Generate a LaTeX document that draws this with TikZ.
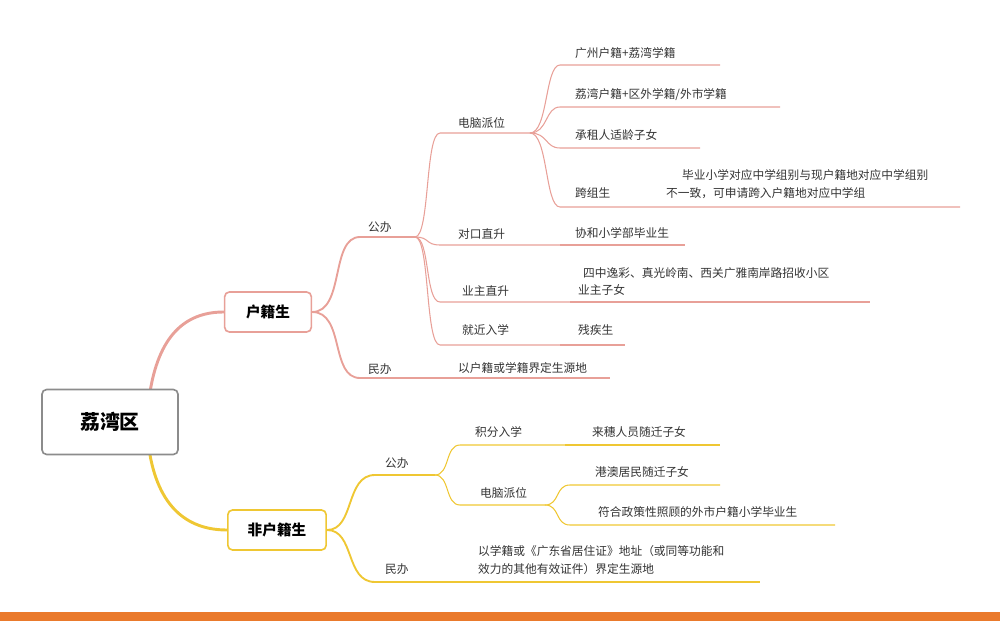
\documentclass[tikz,border=0pt]{standalone}
\usepackage{fontspec}
\setmainfont{Noto Sans CJK SC}
\begin{document}
\begin{tikzpicture}[x=0.03cm,y=-0.03cm,
  pk/.style={draw=pinkc,line width=0.9pt},
  yl/.style={draw=yelc,line width=0.9pt},
  lbl/.style={anchor=west,inner sep=0pt,font=\fontsize{10pt}{11pt}\selectfont,text=black!80},
  box/.style={draw,rounded corners=4pt,fill=white,line width=1.4pt,inner sep=0pt}]
\definecolor{pinkc}{HTML}{E8A098}
\definecolor{yelc}{HTML}{EFC733}
\definecolor{orc}{HTML}{EA7A2C}
\useasboundingbox (0,0) rectangle (1000,621);
\fill[orc] (0,612) rectangle (1000,621);
\coordinate (r1) at (150,392); \coordinate (r2) at (150,455);
\node[box,draw=pinkc,minimum width=2.6cm,minimum height=1.2cm,font=\bfseries\fontsize{12.5pt}{14pt}\selectfont] (hj) at (268,312) {户籍生};
\node[box,draw=yelc,minimum width=2.95cm,minimum height=1.2cm,font=\bfseries\fontsize{12.5pt}{14pt}\selectfont] (fhj) at (277,530) {非户籍生};
\draw[pinkc,line width=2.5pt] (r1) .. controls (160,330) and (190,312) .. (hj.west);
\draw[yelc,line width=2.5pt] (r2) .. controls (160,510) and (190,530) .. (fhj.west);
\node[box,draw=black!45,minimum width=4.08cm,minimum height=1.95cm,font=\bfseries\fontsize{17pt}{20pt}\selectfont] (root) at (110,422) {荔湾区};
% huji level 2
\coordinate (gb1s) at (360,237); \coordinate (gb1e) at (415,237);
\coordinate (mb1s) at (360,378); \coordinate (mb1e) at (440,378);
\draw[pk,line width=1.6pt] (hj.east) .. controls (345,312) and (330,237) .. (gb1s) -- (gb1e);
\draw[pk,line width=1.6pt] (hj.east) .. controls (345,312) and (330,378) .. (mb1s) -- (mb1e);
\node[lbl] (tgb1) at (368,227) {公办};
\node[lbl] (tmb1) at (368,369) {民办};
\foreach \n/\y/\e in {dn/133/530, dk/245/560, yz/302/570, jj/345/560}{
  \coordinate (\n s) at (440,\y); \coordinate (\n e) at (\e,\y);
  \draw[pk] (gb1e) .. controls (430,237) and (425,\y) .. (\n s) -- (\n e);
}
\node[lbl] (tdn) at (458,123) {电脑派位};
\node[lbl] (tdk) at (458,234) {对口直升};
\node[lbl] (tyz) at (462,291) {业主直升};
\node[lbl] (tjj) at (462,330) {就近入学};
\draw[pk] (mb1e) -- (610,378);
\node[lbl] (tmb1x) at (458,368) {以户籍或学籍界定生源地};
\foreach \n/\y/\e in {a/65/720, b/107/780, c/148/700, d/207/960}{
  \coordinate (\n s) at (560,\y); \coordinate (\n e) at (\e,\y);
  \draw[pk] (dne) .. controls (548,133) and (545,\y) .. (\n s) -- (\n e);
}
\node[lbl] (ta) at (575,53) {广州户籍+荔湾学籍};
\node[lbl] (tb) at (575,95) {荔湾户籍+区外学籍/外市学籍};
\node[lbl] (tc) at (575,135) {承租人适龄子女};
\node[lbl] (td) at (575,193) {跨组生};
\node[lbl] (td1) at (682,175) {毕业小学对应中学组别与现户籍地对应中学组别};
\node[lbl] (td2) at (666,193) {不一致，可申请跨入户籍地对应中学组};
\draw[pk] (dke) -- (685,245);
\node[lbl] (tdk2) at (575,233) {协和小学部毕业生};
\draw[pk] (yze) -- (870,302);
\node[lbl] (tyz1) at (583,273) {四中逸彩、真光岭南、西关广雅南岸路招收小区};
\node[lbl] (tyz2) at (578,290) {业主子女};
\draw[pk] (jje) -- (625,345);
\node[lbl] (tjj2) at (578,330) {残疾生};
% non-huji
\coordinate (gb2s) at (375,475); \coordinate (gb2e) at (435,475);
\coordinate (mb2s) at (375,582); \coordinate (mb2e) at (440,582);
\draw[yl,line width=1.6pt] (fhj.east) .. controls (355,530) and (345,475) .. (gb2s) -- (gb2e);
\draw[yl,line width=1.6pt] (fhj.east) .. controls (355,530) and (345,582) .. (mb2s) -- (mb2e);
\node[lbl] (tgb2) at (385,463) {公办};
\node[lbl] (tmb2) at (385,569) {民办};
\coordinate (jfs) at (460,445); \coordinate (jfe) at (565,445);
\coordinate (dn2s) at (460,505); \coordinate (dn2e) at (545,505);
\draw[yl] (gb2e) .. controls (450,475) and (445,445) .. (jfs) -- (jfe);
\draw[yl] (gb2e) .. controls (450,475) and (445,505) .. (dn2s) -- (dn2e);
\node[lbl] (tjf) at (475,432) {积分入学};
\node[lbl] (tdn2) at (480,493) {电脑派位};
\draw[yl] (jfe) -- (720,445);
\node[lbl] (tjf2) at (592,432) {来穗人员随迁子女};
\coordinate (gas) at (570,485); \coordinate (fhs) at (570,525);
\draw[yl] (dn2e) .. controls (560,505) and (555,485) .. (gas) -- (720,485);
\draw[yl] (dn2e) .. controls (560,505) and (555,525) .. (fhs) -- (835,525);
\node[lbl] (tga) at (595,472) {港澳居民随迁子女};
\node[lbl] (tfh) at (598,512) {符合政策性照顾的外市户籍小学毕业生};
\draw[yl] (mb2e) -- (760,582);
\node[lbl] (tm1) at (478,551) {以学籍或《广东省居住证》地址（或同等功能和};
\node[lbl] (tm2) at (478,569) {效力的其他有效证件）界定生源地};
\end{tikzpicture}
\end{document}
